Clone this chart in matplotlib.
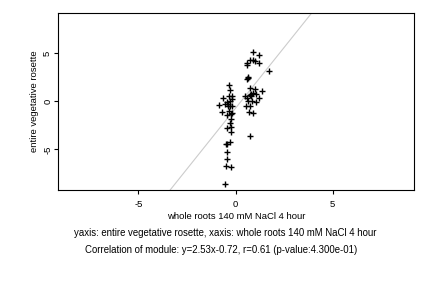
import matplotlib
matplotlib.use("Agg")
import matplotlib.pyplot as plt
import numpy as np

plt.rcParams['font.family'] = ['Liberation Sans', 'DejaVu Sans']

# points
x_vals = [0.88, 1.19, 0.88, 0.76, 0.98, 0.60, 0.60, 1.19, 1.72, 0.62, 0.60, 0.66,
          0.76, 1.01, 1.37, 0.89, 0.82, 0.72, 0.79, 0.50, 0.60, 1.19, 1.07, 0.64,
          0.84, 1.03, 0.53, 0.72, 0.67, 0.88, 0.76,
          -0.31, -0.26, -0.62, -0.33, -0.19, -0.19, -0.45, -0.52, -0.38, -0.84,
          -0.29, -0.17, -0.36, -0.72, -0.19, -0.45, -0.24, -0.26, -0.21, -0.43,
          -0.22, -0.27, -0.50, -0.45, -0.43, -0.43, -0.50, -0.21, -0.52, -0.30,
          -0.40, -0.24]
y_vals = [5.14, 4.86, 4.27, 4.27, 4.20, 4.03, 3.75, 3.99, 3.16, 2.57, 2.29, 2.40,
          1.42, 1.25, 1.08, 0.90, 0.75, 0.65, 0.55, 0.59, 0.35, 0.38, 0.73, 0.03,
          0.03, -0.03, -0.52, -0.52, -1.11, -1.22, -3.61,
          1.70, 1.18, 0.35, 0.59, 0.59, 0.24, -0.03, -0.28, -0.30, -0.38,
          -0.49, -0.49, -0.97, -1.11, -1.18, -1.42, -1.88, -2.22, -2.67, -2.78,
          -3.23, -4.20, -4.48, -4.40, -5.28, -6.00, -6.70, -6.84, -8.58, 0.05,
          -0.45, -1.30]

slope = 2.53
intercept = -0.72
xlim = (-9.15, 9.2)
ylim = (-9.24, 9.23)

fig = plt.figure(figsize=(4.32, 2.88), dpi=100)
ax = fig.add_axes([0.1336, 0.340, 0.8254, 0.616])

xs = np.array(xlim)
ax.plot(xs, slope * xs + intercept, color="#cccccc", linewidth=0.8, zorder=1)
ax.scatter(x_vals, y_vals, marker="+", color="black", s=16, linewidths=1.0, zorder=2)

ax.set_xlim(xlim)
ax.set_ylim(ylim)
ax.set_xticks([-5, 0, 5])
ax.set_yticks([-5, 0, 5])
ax.set_xticklabels(["-5", "0", "5"], fontsize=6.8)
ax.set_yticklabels(["-5", "0", "5"], fontsize=6.8, rotation=90, va="center")
ax.tick_params(direction="out", length=3, width=0.8)
ax.tick_params(axis="x", pad=4)
ax.tick_params(axis="y", pad=1)
for s in ax.spines.values():
    s.set_linewidth(0.8)

ax.set_xlabel("whole roots 140 mM NaCl 4 hour", fontsize=6.8, labelpad=2)
ax.set_ylabel("entire vegetative rosette", fontsize=6.8, labelpad=3)

fig.text(225 / 432, 1 - 233 / 288, "yaxis: entire vegetative rosette, xaxis: whole roots 140 mM NaCl 4 hour",
         ha="center", va="center", fontsize=6.9)
fig.text(221 / 432, 1 - 250 / 288, "Correlation of module: y=2.53x-0.72, r=0.61 (p-value:4.300e-01)",
         ha="center", va="center", fontsize=6.9)

plt.savefig("out.png", dpi=100)
